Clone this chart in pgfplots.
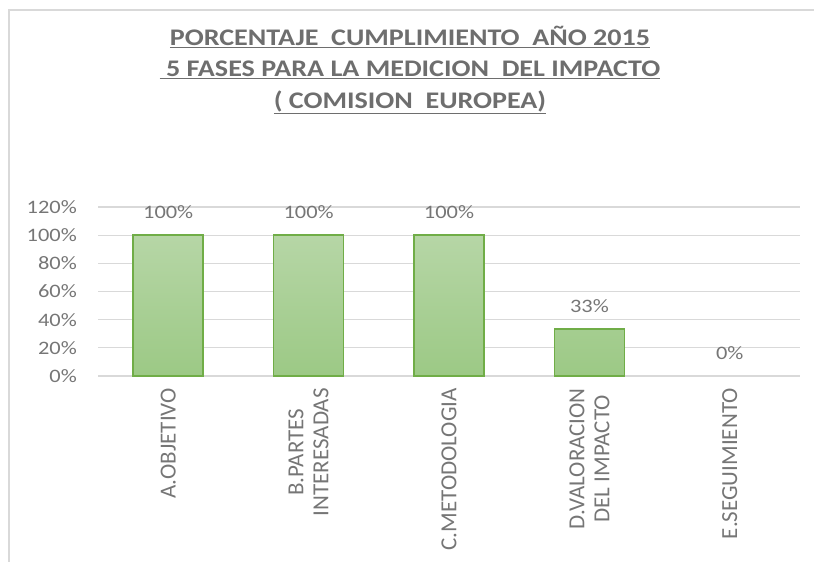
\documentclass[border=0pt]{standalone}
\usepackage{pgfplots}
\pgfplotsset{compat=1.18}
\usepackage{fontspec}
\setmainfont{Carlito}
\newfontfamily\wide[FakeStretch=1.18]{Carlito}
\definecolor{txt}{HTML}{767676}
\definecolor{ttl}{HTML}{6E6E6E}
\definecolor{gridc}{HTML}{D9D9D9}
\definecolor{barline}{HTML}{70AD47}
\definecolor{bartop}{HTML}{B6D6A6}
\definecolor{barbot}{HTML}{9CC985}
\begin{document}
\begin{tikzpicture}
\path[use as bounding box] (0,0) rectangle (814bp,562bp);
\draw[gridc, line width=2bp] (9bp,0) -- (9bp,552bp) -- (814bp,552bp);
\node[ttl, font=\wide\fontsize{23.8bp}{26bp}\selectfont\bfseries] at (410bp,525bp) {\underline{PORCENTAJE\ \ CUMPLIMIENTO\ \ AÑO 2015}};
\node[ttl, font=\wide\fontsize{23.8bp}{26bp}\selectfont\bfseries] at (410bp,492bp) {\underline{\ 5 FASES PARA LA MEDICION\ \ DEL IMPACTO}};
\node[ttl, font=\wide\fontsize{23.8bp}{26bp}\selectfont\bfseries] at (410bp,460bp) {\underline{( COMISION\ \ EUROPEA)}};
\begin{axis}[
  at={(98bp,186bp)}, anchor=south west,
  scale only axis, width=702bp, height=169bp,
  xmin=-0.5, xmax=4.5, ymin=0, ymax=120,
  ytick={0,20,...,120},
  xtick={0,1,2,3,4},
  xticklabels={A.OBJETIVO,{B.PARTES\\INTERESADAS},C.METODOLOGIA,{D.VALORACION\\DEL IMPACTO},E.SEGUIMIENTO},
  ymajorgrids, xmajorgrids=false, grid style={gridc, line width=1.2bp},
  axis line style={draw=none},
  major tick length=0pt,
  /pgf/number format/assume math mode=true,
  yticklabel={\pgfmathprintnumber{\tick}\%},
  yticklabel style={txt, font=\wide\fontsize{19bp}{22bp}\selectfont, inner xsep=0pt, xshift=-21bp},
  xticklabel style={txt, font=\fontsize{23bp}{25bp}\selectfont, rotate=90, anchor=east, align=center, inner xsep=12bp},
  ybar, bar width=70bp, bar shift=0pt,
  nodes near coords={\pgfmathprintnumber[fixed,precision=0]{\pgfplotspointmeta}\%},
  every node near coord/.append style={txt, font=\wide\fontsize{19bp}{22bp}\selectfont, anchor=center, yshift=23bp},
  clip=false,
]
\addplot[draw=barline, line width=1.5bp, top color=bartop, bottom color=barbot] coordinates {(0,100) (1,100) (2,100) (3,33.33)};
\addplot[draw=none, fill=none] coordinates {(4,0)};
\end{axis}
\end{tikzpicture}
\end{document}
